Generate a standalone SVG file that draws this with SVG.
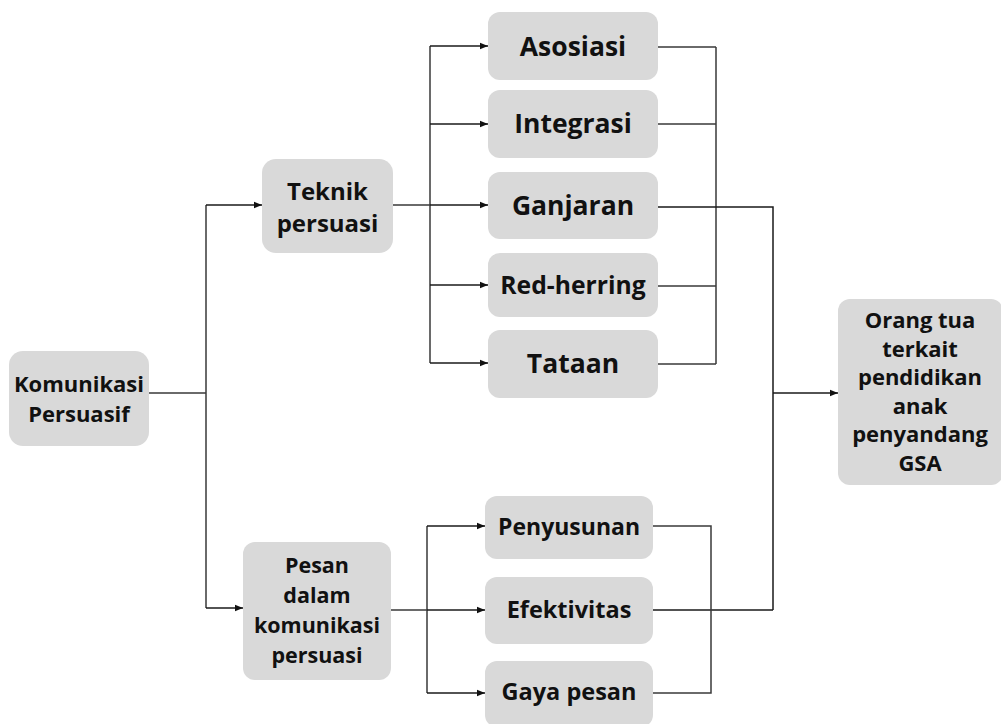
<svg xmlns="http://www.w3.org/2000/svg" width="1001" height="724" viewBox="0 0 1001 724">
<defs>
<style>
.box{fill:#d9d9d9;}
text{font-family:"Open Sans","Noto Sans","Liberation Sans",sans-serif;font-weight:700;fill:#111;text-anchor:middle;}
.ln{fill:none;stroke:#3a3a3a;stroke-width:1.5;}
.ar{fill:none;stroke:#1a1a1a;stroke-width:1.5;marker-end:url(#ah);}
</style>
<marker id="ah" viewBox="0 0 10 10" refX="10" refY="5" markerWidth="8" markerHeight="8" markerUnits="userSpaceOnUse" orient="auto">
<path d="M0,1 L10,5 L0,9 z" fill="#111"/>
</marker>
</defs>
<rect width="1001" height="724" fill="#fff"/>
<g id="connectors">
<path class="ln" d="M149,393 H206 M206,205 V608"/>
<path class="ar" d="M206,205 H262"/>
<path class="ar" d="M206,608 H243"/>
<path class="ln" d="M393,205 H430 M430,46 V363"/>
<path class="ar" d="M430,46 H488"/>
<path class="ar" d="M430,124 H488"/>
<path class="ar" d="M430,205 H488"/>
<path class="ar" d="M430,285 H488"/>
<path class="ar" d="M430,363 H488"/>
<path class="ln" d="M658,47 H716 M658,124 H716 M658,286 H716 M658,364 H716 M716,47 V364"/>
<path class="ln" d="M658,207 H773 V610 M653,610 H773" style="stroke:#1a1a1a"/>
<path class="ar" d="M773,393 H838"/>
<path class="ln" d="M391,610 H427 M427,526 V693"/>
<path class="ar" d="M427,526 H485"/>
<path class="ar" d="M427,610 H485"/>
<path class="ar" d="M427,693 H485"/>
<path class="ln" d="M653,526 H711 V693 H653"/>
</g>
<g id="komunikasi">
<rect class="box" x="9" y="351" width="140" height="95" rx="14"/>
<text x="79" y="392" font-size="22">Komunikasi</text>
<text x="79" y="422" font-size="22">Persuasif</text>
</g>
<g id="teknik">
<rect class="box" x="262" y="159" width="131" height="94" rx="14"/>
<text x="327.5" y="200" font-size="24">Teknik</text>
<text x="327.5" y="232" font-size="24">persuasi</text>
</g>
<g id="pesan">
<rect class="box" x="243" y="542" width="148" height="138" rx="12"/>
<text x="317" y="573" font-size="21.5">Pesan</text>
<text x="317" y="603" font-size="21.5">dalam</text>
<text x="317" y="633" font-size="21.5">komunikasi</text>
<text x="317" y="663" font-size="21.5">persuasi</text>
</g>
<g id="asosiasi">
<rect class="box" x="488" y="12" width="170" height="68" rx="12"/>
<text x="573" y="56" font-size="26.5">Asosiasi</text>
</g>
<g id="integrasi">
<rect class="box" x="488" y="90" width="170" height="68" rx="12"/>
<text x="573" y="133" font-size="26.5">Integrasi</text>
</g>
<g id="ganjaran">
<rect class="box" x="488" y="172" width="170" height="67" rx="12"/>
<text x="573" y="215" font-size="26.5">Ganjaran</text>
</g>
<g id="red-herring">
<rect class="box" x="488" y="253" width="170" height="64" rx="12"/>
<text x="573" y="294" font-size="24.7">Red-herring</text>
</g>
<g id="tataan">
<rect class="box" x="488" y="330" width="170" height="68" rx="12"/>
<text x="573" y="373" font-size="26.5">Tataan</text>
</g>
<g id="penyusunan">
<rect class="box" x="485" y="496" width="168" height="63" rx="12"/>
<text x="569" y="535" font-size="23">Penyusunan</text>
</g>
<g id="efektivitas">
<rect class="box" x="485" y="577" width="168" height="67" rx="12"/>
<text x="569" y="618" font-size="23.5">Efektivitas</text>
</g>
<g id="gaya-pesan">
<rect class="box" x="485" y="661" width="168" height="66" rx="12"/>
<text x="569" y="700" font-size="23.5">Gaya pesan</text>
</g>
<g id="orang-tua">
<rect class="box" x="838" y="299" width="165" height="186" rx="12"/>
<text x="920" y="328" font-size="22">Orang tua</text>
<text x="920" y="357" font-size="22">terkait</text>
<text x="920" y="385" font-size="22">pendidikan</text>
<text x="920" y="414" font-size="22">anak</text>
<text x="920" y="442" font-size="22">penyandang</text>
<text x="920" y="471" font-size="22">GSA</text>
</g>
</svg>
